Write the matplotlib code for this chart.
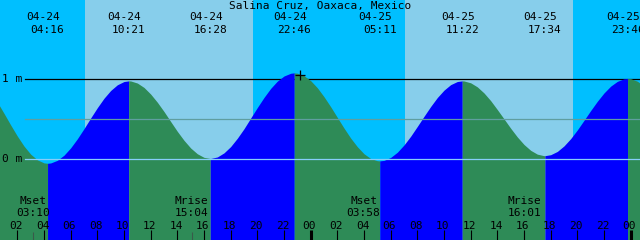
import matplotlib
matplotlib.use("Agg")
import numpy as np
import matplotlib.pyplot as plt

title = "Salina Cruz, Oaxaca, Mexico"

# tide height (m) read every half hour, hours counted from 04-24 00:00
hours = [i * 0.5 for i in range(99)]
heights = [0.84, 0.715, 0.574, 0.429, 0.29, 0.165, 0.064, -0.007, -0.045, -0.046,
           -0.013, 0.051, 0.143, 0.256, 0.383, 0.516, 0.645, 0.763, 0.86, 0.931,
           0.972, 0.979, 0.953, 0.898, 0.815, 0.713, 0.597, 0.472, 0.349, 0.237,
           0.141, 0.069, 0.024, 0.010, 0.029, 0.080, 0.159, 0.263, 0.382, 0.515,
           0.647, 0.773, 0.886, 0.977, 1.041, 1.075, 1.076, 1.045, 0.983, 0.894,
           0.782, 0.657, 0.523, 0.390, 0.265, 0.157, 0.069, 0.010, -0.018, -0.014,
           0.023, 0.088, 0.179, 0.288, 0.411, 0.537, 0.660, 0.772, 0.864, 0.933,
           0.972, 0.979, 0.956, 0.905, 0.829, 0.733, 0.621, 0.505, 0.388, 0.279,
           0.185, 0.112, 0.064, 0.045, 0.057, 0.098, 0.167, 0.258, 0.367, 0.487,
           0.609, 0.725, 0.829, 0.914, 0.974, 1.006, 1.008, 0.976, 0.915]

# high / low tides
ext_dates = ["04-24", "04-24", "04-24", "04-24", "04-25", "04-25", "04-25", "04-25"]
ext_days = [0, 0, 0, 0, 1, 1, 1, 1]
ext_times = ["04:16", "10:21", "16:28", "22:46", "05:11", "11:22", "17:34", "23:46"]
ext_heights = [-0.05, 0.98, 0.01, 1.08, -0.02, 0.98, 0.045, 1.01]

# daylight (sunrise, sunset) in hours
daylight = [(7.07, 19.70), (31.07, 43.70)]

# moon rise / set
moon_names = ["Mset", "Mrise", "Mset", "Mrise"]
moon_days = [0, 0, 1, 1]
moon_times = ["03:10", "15:04", "03:58", "16:01"]

# current time marker
now_t, now_h = 23.2, 1.054

hour_ticks = list(range(2, 50, 2))
hour_labels = ["%02d" % (h % 24) for h in hour_ticks]


def to_hours(day, hm):
    hh, mm = hm.split(":")
    return day * 24 + int(hh) + int(mm) / 60


night_c = "#00BFFF"
day_c = "#87CEEB"
rise_c = "#0000FF"
fall_c = "#2E8B57"
font = dict(family="DejaVu Sans Mono", fontsize=8, color="black")

ext_t = [to_hours(d, t) for d, t in zip(ext_days, ext_times)]
t_all = np.array(hours + ext_t, dtype=float)
h_all = np.array(heights + ext_heights, dtype=float)
order = np.argsort(t_all)
t_all, h_all = t_all[order], h_all[order]

fig = plt.figure(figsize=(6.4, 2.4), dpi=100)
ax = fig.add_axes([0, 0, 1, 1])
ax.set_xlim(0.7, 48.7)
ax.set_ylim(-1.009, 1.991)
ax.axis("off")
xt = ax.get_xaxis_transform()
yt = ax.get_yaxis_transform()

# sky
ax.axvspan(-1, 50, color=night_c, lw=0, zorder=0)
for sr, ss in daylight:
    ax.axvspan(sr, ss, color=day_c, lw=0, zorder=0)

# 1 m line (under the water)
ax.axhline(1.0, xmin=25 / 640, xmax=1, color="black", lw=0.9, zorder=1)

# water, blue while rising, green while falling
bounds = [t_all[0]] + ext_t + [t_all[-1]]
for i in range(len(bounds) - 1):
    a, b = bounds[i], bounds[i + 1]
    m = (t_all >= a) & (t_all <= b)
    col = rise_c if i % 2 == 1 else fall_c
    ax.fill_between(t_all[m], -1.2, h_all[m], color=col, lw=0, zorder=2)

# mid and zero lines
ax.axhline(0.5, xmin=25 / 640, xmax=1, color="#5F9EA0", lw=0.9, zorder=3)
ax.axhline(0.0, xmin=25 / 640, xmax=1, color="#87CEFA", lw=0.9, zorder=3)

ax.text(2 / 640, 1.0, "1 m", transform=yt, ha="left", va="center", **font)
ax.text(2 / 640, 0.0, "0 m", transform=yt, ha="left", va="center", **font)

ax.plot([now_t], [now_h], marker="+", color="black", ms=7, mew=0.9, zorder=4)

# labels of highs and lows
for t, d, s in zip(ext_t, ext_dates, ext_times):
    ax.text(t - 0.32, 1 - 17 / 240, d, transform=xt, ha="center", va="center", **font)
    ax.text(t, 1 - 30 / 240, s, transform=xt, ha="center", va="center", **font)

# moon events
for name, d, s in zip(moon_names, moon_days, moon_times):
    t = to_hours(d, s)
    ax.text(t, 1 - 201.5 / 240, name, transform=xt, ha="center", va="center", **font)
    ax.text(t, 1 - 213.5 / 240, s, transform=xt, ha="center", va="center", **font)
    ax.vlines(t, 0, 8 / 240, transform=xt, color="#3a5a4a", lw=0.8, zorder=4)

# hour ticks
for t, lab in zip(hour_ticks, hour_labels):
    lw = 2.2 if t % 24 == 0 else 0.8
    ax.vlines(t, 0, 10 / 240, transform=xt, color="black", lw=lw, zorder=4)
    ax.text(t - 0.1, 1 - 226 / 240, lab, transform=xt, ha="center", va="center", **font)

fig.text(0.5, 1 - 5.5 / 240, title, ha="center", va="center", **font)

fig.savefig("out.png", dpi=100)
